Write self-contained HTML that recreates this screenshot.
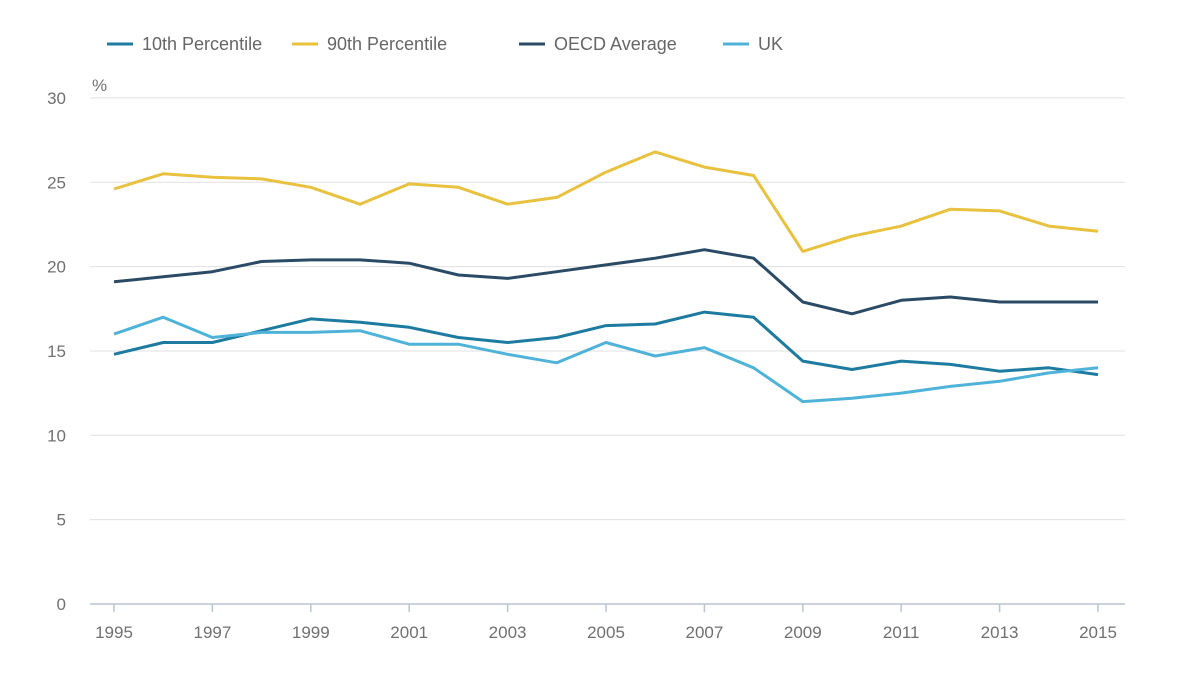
<!DOCTYPE html>
<html><head><meta charset="utf-8"><style>
body{margin:0;background:#fff;font-family:"Liberation Sans",sans-serif}
svg text{font-family:"Liberation Sans",sans-serif}
</style></head><body>
<svg id="chart" width="1200" height="684" viewBox="0 0 1200 684" xmlns="http://www.w3.org/2000/svg">
<g id="legend"></g>
<g id="grid"></g>
<g id="axes"></g>
<g id="series"></g>
</svg>
<script>
const years=[1995,1996,1997,1998,1999,2000,2001,2002,2003,2004,2005,2006,2007,2008,2009,2010,2011,2012,2013,2014,2015];
const p10=[14.8,15.5,15.5,16.2,16.9,16.7,16.4,15.8,15.5,15.8,16.5,16.6,17.3,17.0,14.4,13.9,14.4,14.2,13.8,14.0,13.6];
const p90=[24.6,25.5,25.3,25.2,24.7,23.7,24.9,24.7,23.7,24.1,25.6,26.8,25.9,25.4,20.9,21.8,22.4,23.4,23.3,22.4,22.1];
const oecd=[19.1,19.4,19.7,20.3,20.4,20.4,20.2,19.5,19.3,19.7,20.1,20.5,21.0,20.5,17.9,17.2,18.0,18.2,17.9,17.9,17.9];
const uk=[16.0,17.0,15.8,16.1,16.1,16.2,15.4,15.4,14.8,14.3,15.5,14.7,15.2,14.0,12.0,12.2,12.5,12.9,13.2,13.7,14.0];
const yTicks=[0,5,10,15,20,25,30];
const xTicks=[1995,1997,1999,2001,2003,2005,2007,2009,2011,2013,2015];
const seriesNames=["10th Percentile","90th Percentile","OECD Average","UK"];
const NS="http://www.w3.org/2000/svg";
const x=v=>114+(v-1995)*49.2;
const y=v=>604-v*16.87;
function mk(tag,attrs,parent){const e=document.createElementNS(NS,tag);for(const k in attrs)e.setAttribute(k,attrs[k]);parent.appendChild(e);return e;}
const grid=document.getElementById('grid'),axes=document.getElementById('axes'),ser=document.getElementById('series'),leg=document.getElementById('legend');
yTicks.forEach(t=>{
 if(t>0){const l=mk('line',{x1:90,x2:1125,y1:y(t),y2:y(t),stroke:'#e0e0e0','stroke-width':1},grid);
 
 }
 const tx=mk('text',{x:66,y:y(t)+6,'text-anchor':'end','font-size':17,fill:'#707070'},axes);tx.textContent=t;
 
 
});
const pct=mk('text',{x:92,y:91,'font-size':17,fill:'#707070'},axes);pct.textContent='%';


const ax=mk('line',{x1:90,x2:1125,y1:604,y2:604,stroke:'#b8c4d0','stroke-width':1.5},axes);


xTicks.forEach(t=>{
 const tk=mk('line',{x1:x(t),x2:x(t),y1:604,y2:612,stroke:'#b8c4d0','stroke-width':1.5},axes);
 
 
 const tx=mk('text',{x:x(t),y:638,'text-anchor':'middle','font-size':17,fill:'#707070'},axes);tx.textContent=t;
 
 
});
const data=[p10,p90,oecd,uk];
const colors=['#1d7ba0','#e8c13f','#2b4a66','#4fb3d9'];
const legX=[107,292,519,723];
data.forEach((d,i)=>{
 const pts=d.map((v,j)=>x(years[j]).toFixed(1)+','+y(v).toFixed(1)).join(' ');
 const pl=mk('polyline',{points:pts,fill:'none',stroke:colors[i],'stroke-width':3,'stroke-linejoin':'round'},ser);
 
 
 const g=mk('g',{},leg);
 
 
 mk('line',{x1:legX[i],x2:legX[i]+26,y1:44,y2:44,stroke:colors[i],'stroke-width':3},g);
 const t=mk('text',{x:legX[i]+35,y:50,'font-size':18,fill:'#666'},g);t.textContent=seriesNames[i];
});
</script>
</body></html>
